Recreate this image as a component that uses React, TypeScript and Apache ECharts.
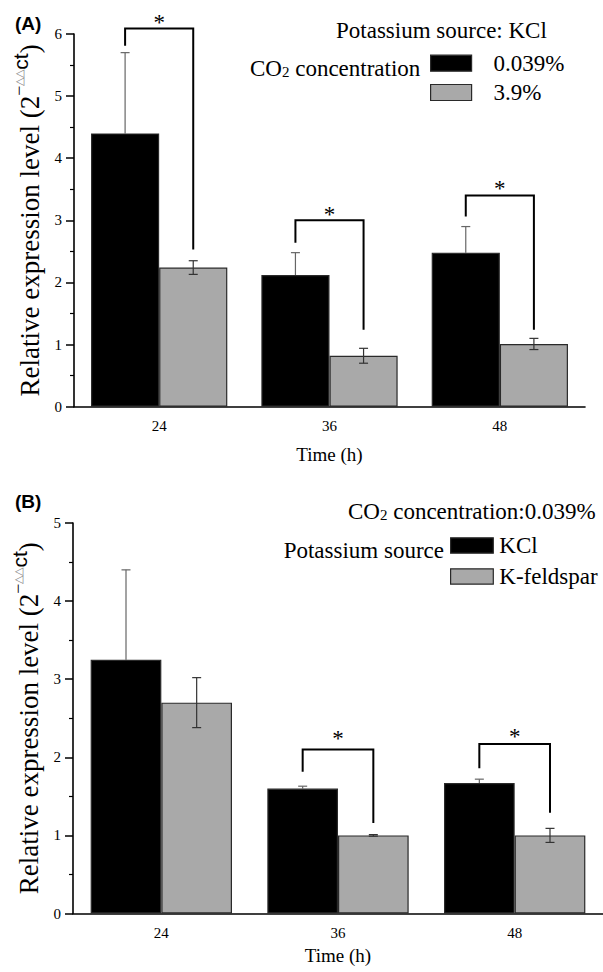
import React, { useEffect, useRef } from "react";
import * as echarts from "echarts";

const SERIF = '"Liberation Serif", "Times New Roman", serif';
const SANS = '"Liberation Sans", Arial, sans-serif';

const categories = ["24", "36", "48"];
const yTicksA = { min: 0, max: 6, interval: 1 };
const yTicksB = { min: 0, max: 5, interval: 1 };

// Panel A: Potassium source KCl, two CO2 levels
const aNames = ["0.039%", "3.9%"];
const aLowCO2 = [4.4, 2.12, 2.48];
const aLowCO2Err = [1.3, 0.36, 0.42];
const aHighCO2 = [2.24, 0.82, 1.01];
const aHighCO2Err = [0.11, 0.12, 0.09];
// [category, bracketTop, leftLegBottom, rightLegBottom, starY]
const aSig = [
  [0, 6.09, 5.81, 2.53, 6.27],
  [1, 3.0, 2.64, 1.24, 3.18],
  [2, 3.4, 3.06, 1.24, 3.6],
];

// Panel B: CO2 0.039%, two potassium sources
const bNames = ["KCl", "K-feldspar"];
const bKCl = [3.25, 1.6, 1.67];
const bKClErr = [1.15, 0.03, 0.05];
const bFeld = [2.7, 1.0, 1.0];
const bFeldErr = [0.32, 0.01, 0.09];
const bSig = [
  [1, 2.1, 1.815, 1.16, 2.31],
  [2, 2.17, 1.86, 1.29, 2.33],
];

function errorSeries(
  vals: number[],
  errs: number[],
  sign: number,
  axis: number,
  color: string,
  z: number,
  showLower: boolean
) {
  return {
    type: "custom",
    xAxisIndex: axis,
    yAxisIndex: axis,
    z,
    clip: false,
    silent: true,
    data: vals.map((v, i) => [i, v, errs[i]]),
    renderItem: (params: any, api: any) => {
      const i = api.value(0);
      const v = api.value(1);
      const e = api.value(2);
      const bw = api.size([1, 0])[0];
      const x = api.coord([i, v])[0] + sign * bw * 0.2;
      const yTop = api.coord([i, v + e])[1];
      const yBot = api.coord([i, showLower ? v - e : v])[1];
      const cap = 4.5;
      const st = { stroke: color, lineWidth: 1.2 };
      const children: any[] = [
        { type: "line", shape: { x1: x, y1: yTop, x2: x, y2: yBot }, style: st },
        { type: "line", shape: { x1: x - cap, y1: yTop, x2: x + cap, y2: yTop }, style: st },
      ];
      if (showLower) {
        children.push({
          type: "line",
          shape: { x1: x - cap, y1: yBot, x2: x + cap, y2: yBot },
          style: st,
        });
      }
      return { type: "group", children };
    },
  };
}

function sigSeries(data: number[][], axis: number) {
  return {
    type: "custom",
    xAxisIndex: axis,
    yAxisIndex: axis,
    z: 5,
    clip: false,
    silent: true,
    data,
    renderItem: (params: any, api: any) => {
      const i = api.value(0);
      const bw = api.size([1, 0])[0];
      const cx = api.coord([i, 0])[0];
      const xL = cx - bw * 0.2;
      const xR = cx + bw * 0.2;
      const yT = api.coord([i, api.value(1)])[1];
      const yL = api.coord([i, api.value(2)])[1];
      const yR = api.coord([i, api.value(3)])[1];
      const yS = api.coord([i, api.value(4)])[1];
      return {
        type: "group",
        children: [
          {
            type: "polyline",
            shape: { points: [[xL, yL], [xL, yT], [xR, yT], [xR, yR]] },
            style: { stroke: "#000", lineWidth: 2, fill: "none" },
          },
          {
            type: "text",
            style: {
              text: "*",
              x: (xL + xR) / 2,
              y: yS + 5,
              align: "center",
              verticalAlign: "middle",
              font: `23px ${SERIF}`,
              fill: "#000",
            },
          },
        ],
      };
    },
  };
}

const yName = "{a|Relative expression level (2}{s|−}{t|△△}{c|ct}{a|)}";
const yNameStyle = {
  color: "#000",
  fontFamily: SERIF,
  fontSize: 27,
  rich: {
    a: { fontFamily: SERIF, fontSize: 27, lineHeight: 34, verticalAlign: "bottom", color: "#000" },
    s: { fontFamily: SERIF, fontSize: 18, verticalAlign: "top", color: "#000" },
    t: { fontFamily: SANS, fontSize: 11, verticalAlign: "top", color: "#888", padding: [4, 0, 0, 0] },
    c: { fontFamily: SANS, fontSize: 21, verticalAlign: "top", color: "#000" },
  },
};

function xAxisCfg(grid: number, gap: number) {
  return {
    type: "category",
    gridIndex: grid,
    data: categories,
    name: "Time (h)",
    nameLocation: "middle",
    nameGap: gap,
    nameTextStyle: { fontFamily: SERIF, fontSize: 19, color: "#000" },
    axisLine: { lineStyle: { color: "#000", width: 1.6 } },
    axisTick: { alignWithLabel: true, length: 7, lineStyle: { color: "#000", width: 1.5 } },
    axisLabel: { fontFamily: SERIF, fontSize: 15, color: "#000", margin: 12 },
    splitLine: { show: false },
  };
}

function yAxisCfg(grid: number, t: { min: number; max: number; interval: number }) {
  return {
    type: "value",
    gridIndex: grid,
    min: t.min,
    max: t.max,
    interval: t.interval,
    name: yName,
    nameLocation: "middle",
    nameRotate: 90,
    nameGap: 24,
    nameTextStyle: yNameStyle,
    axisLine: { show: true, lineStyle: { color: "#000", width: 1.6 } },
    axisTick: { show: true, length: 8, lineStyle: { color: "#000", width: 1.5 } },
    minorTick: { show: true, splitNumber: 2, length: 4, lineStyle: { color: "#000", width: 1.2 } },
    axisLabel: { fontFamily: SERIF, fontSize: 15, color: "#000", margin: 12 },
    splitLine: { show: false },
    minorSplitLine: { show: false },
  };
}

function barSeries(name: string, data: number[], axis: number, color: string) {
  return {
    type: "bar",
    name,
    xAxisIndex: axis,
    yAxisIndex: axis,
    data,
    barGap: "0%",
    barCategoryGap: "20%",
    z: 2,
    itemStyle: { color, borderColor: "#2a2a2a", borderWidth: 1.2 },
  };
}

const legendText = { fontFamily: SERIF, fontSize: 23, color: "#000", lineHeight: 16 };
const co2Rich = {
  a: { fontFamily: SERIF, fontSize: 23, lineHeight: 26, verticalAlign: "bottom", fill: "#000" },
  s: { fontFamily: SERIF, fontSize: 15, verticalAlign: "bottom", fill: "#000", padding: [0, 0, 1, 0] },
};

export default function App() {
  const ref = useRef<HTMLDivElement>(null);
  useEffect(() => {
    if (!ref.current) return;
    const chart = echarts.init(ref.current, undefined, { renderer: "svg" });
    chart.setOption({
      animation: false,
      backgroundColor: "#fff",
      grid: [
        { left: 74, top: 34, width: 511, height: 372.7 },
        { left: 73, top: 523, width: 537, height: 390.5 },
      ],
      xAxis: [xAxisCfg(0, 38), xAxisCfg(1, 32)],
      yAxis: [yAxisCfg(0, yTicksA), yAxisCfg(1, yTicksB)],
      legend: [
        {
          data: aNames,
          orient: "vertical",
          left: 430,
          top: 51.7,
          padding: 0,
          itemWidth: 41,
          itemHeight: 16,
          itemGap: 6.3,
          icon: "rect",
          selectedMode: false,
          itemStyle: { borderColor: "#2a2a2a", borderWidth: 1.2 },
          textStyle: { ...legendText, padding: [0, 0, 0, 17] },
        },
        {
          data: bNames,
          orient: "vertical",
          left: 450,
          top: 534,
          padding: 0,
          itemWidth: 42.7,
          itemHeight: 15.3,
          itemGap: 8,
          icon: "rect",
          selectedMode: false,
          itemStyle: { borderColor: "#2a2a2a", borderWidth: 1.2 },
          textStyle: { ...legendText, padding: [0, 0, 0, 1] },
        },
      ],
      graphic: [
        { type: "text", left: 15, top: 14, style: { text: "(A)", font: `bold 19px ${SANS}`, fill: "#000" } },
        { type: "text", left: 15, top: 492, style: { text: "(B)", font: `bold 19px ${SANS}`, fill: "#000" } },
        {
          type: "text",
          x: 336,
          y: 30,
          style: { text: "Potassium source: KCl", font: `23px ${SERIF}`, fill: "#000", verticalAlign: "middle" },
        },
        {
          type: "text",
          x: 250,
          y: 67,
          style: { text: "{a|CO}{s|2}{a| concentration}", verticalAlign: "middle", rich: co2Rich },
        },
        {
          type: "text",
          x: 348,
          y: 510,
          style: { text: "{a|CO}{s|2}{a| concentration:0.039%}", verticalAlign: "middle", rich: co2Rich },
        },
        {
          type: "text",
          x: 444,
          y: 550,
          style: { text: "Potassium source", font: `23px ${SERIF}`, fill: "#000", align: "right", verticalAlign: "middle" },
        },
      ],
      series: [
        errorSeries(aLowCO2, aLowCO2Err, -1, 0, "#666", 1, false),
        barSeries(aNames[0], aLowCO2, 0, "#000"),
        barSeries(aNames[1], aHighCO2, 0, "#a9a9a9"),
        errorSeries(aHighCO2, aHighCO2Err, 1, 0, "#333", 4, true),
        sigSeries(aSig, 0),
        errorSeries(bKCl, bKClErr, -1, 1, "#666", 1, false),
        barSeries(bNames[0], bKCl, 1, "#000"),
        barSeries(bNames[1], bFeld, 1, "#a9a9a9"),
        errorSeries(bFeld, bFeldErr, 1, 1, "#333", 4, true),
        sigSeries(bSig, 1),
      ],
    });
    return () => chart.dispose();
  }, []);
  return (
    <div
      ref={ref}
      style={{ position: "absolute", left: 0, top: 0, width: 603, height: 972, overflow: "hidden" }}
    />
  );
}
